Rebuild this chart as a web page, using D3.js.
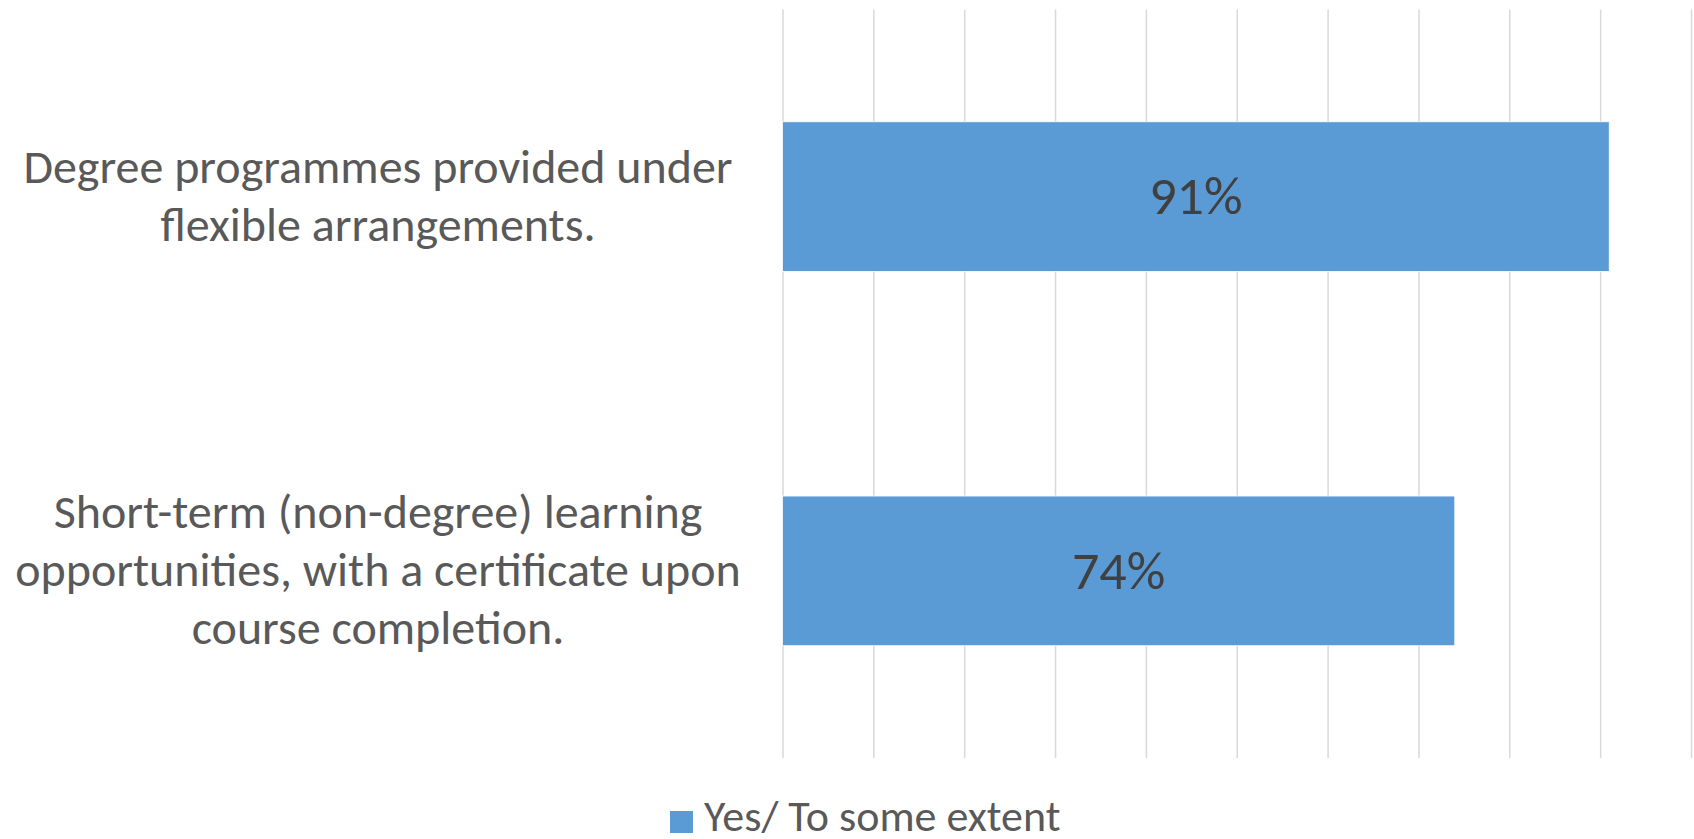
<!DOCTYPE html>
<html>
<head>
<meta charset="utf-8">
<script src="https://cdn.jsdelivr.net/npm/d3@7"></script>
<style>
  body { margin: 0; background: #fff; }
  svg { display: block; }
</style>
</head>
<body>
<div id="chart"></div>
<script>
// chart data
const categories = ["Degree", "Short-term"];
const categoryLines = [
  ["Degree programmes provided under", "flexible arrangements."],
  ["Short-term (non-degree) learning", "opportunities, with a certificate upon", "course completion."]
];
const values = [91, 74];
const valueLabels = ["91%", "74%"];
const gridTicks = [0, 10, 20, 30, 40, 50, 60, 70, 80, 90, 100];
const seriesName = "Yes/ To some extent";

const width = 1694;
const height = 839;
const margin = {left: 782.5, right: 3, top: 9.5, bottom: 81};
const font = "Calibri, Carlito, Lato, sans-serif";

const svg = d3.select("#chart")
  .append("svg")
  .attr("width", width)
  .attr("height", height);

// x scale (percent)
const x = d3.scaleLinear()
  .domain([0, 100])
  .range([margin.left, width - margin.right]);

// y band scale
const y = d3.scaleBand()
  .domain(categories)
  .range([margin.top, height - margin.bottom])
  .paddingInner(0.6)
  .paddingOuter(0.3);

// vertical gridlines
const grid = svg.append("g")
  .attr("transform", `translate(0,${height - margin.bottom})`)
  .call(d3.axisBottom(x)
    .tickValues(gridTicks)
    .tickSize(-(height - margin.bottom - margin.top))
    .tickFormat(""));
grid.select(".domain").remove();
grid.selectAll(".tick line")
  .attr("stroke", "#d9d9d9")
  .attr("stroke-width", 1.5);

// bars
svg.selectAll(".bar")
  .data(values)
  .enter()
  .append("rect")
    .attr("class", "bar")
    .attr("x", x(0))
    .attr("y", (d, i) => y(categories[i]))
    .attr("width", d => x(d) - x(0))
    .attr("height", y.bandwidth())
    .attr("fill", "#5b9bd5")
    .attr("stroke", "#ffffff")
    .attr("stroke-width", 0.8);

// value labels in the bars
svg.selectAll(".val")
  .data(values)
  .enter()
  .append("text")
    .attr("class", "val")
    .attr("x", d => (x(0) + x(d)) / 2)
    .attr("y", (d, i) => y(categories[i]) + y.bandwidth() / 2)
    .attr("dy", "0.33em")
    .attr("text-anchor", "middle")
    .attr("font-family", font)
    .attr("font-size", "54px")
    .attr("fill", "#404040")
    .text((d, i) => valueLabels[i]);

// category labels (multi-line, centered)
const labelX = 378;
const lineH = 58;
categories.forEach((c, i) => {
  const lines = categoryLines[i];
  const cy = y(c) + y.bandwidth() / 2;
  const t = svg.append("text")
    .attr("text-anchor", "middle")
    .attr("font-family", font)
    .attr("font-size", "48px")
    .attr("fill", "#595959");
  lines.forEach((ln, j) => {
    t.append("tspan")
      .attr("x", labelX)
      .attr("y", cy + (j - (lines.length - 1) / 2) * lineH)
      .attr("dy", "0.32em")
      .text(ln);
  });
});

// legend
const legend = svg.append("g").attr("transform", "translate(670,811)");
legend.append("rect")
  .attr("width", 23)
  .attr("height", 22)
  .attr("fill", "#5b9bd5");
legend.append("text")
  .attr("x", 34)
  .attr("y", 20)
  .attr("font-family", font)
  .attr("font-size", "44px")
  .attr("fill", "#595959")
  .text(seriesName);
</script>
</body>
</html>
